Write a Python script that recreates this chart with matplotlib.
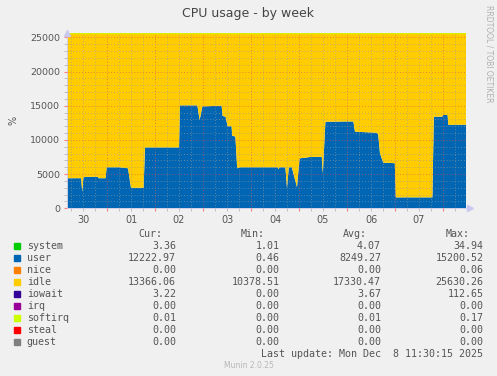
import matplotlib
matplotlib.use('Agg')
import matplotlib.pyplot as plt
from matplotlib.ticker import MultipleLocator, FuncFormatter

# hours since Nov 30 00:00
hours = [4.0, 11.1, 11.6, 12.2, 13.0, 19.4, 19.8, 23.3, 23.8, 30.0, 34.5, 36.0,
         42.3, 43.0, 60.0, 60.5, 69.2, 70.3, 71.7, 81.3, 81.8, 83.3, 84.3, 86.3,
         86.6, 88.2, 89.1, 90.7, 109.2, 109.8, 110.2, 113.2, 114.0, 114.9, 116.4,
         119.0, 119.8, 120.3, 125.6, 131.4, 131.9, 133.2, 147.2, 148.0, 158.8,
         159.6, 160.5, 162.1, 167.9, 168.4, 186.7, 187.4, 191.7, 192.1, 194.3,
         194.7, 203.5]
user = [4400, 4400, 2400, 4500, 4600, 4600, 4400, 4400, 6000, 6000, 5850, 3000,
        3000, 8900, 8900, 15050, 15050, 12900, 14900, 15000, 13500, 13400, 12000,
        12000, 10600, 10500, 5850, 6000, 6000, 5700, 6000, 6000, 3000, 6000, 6000,
        3100, 5800, 7300, 7500, 7540, 5100, 12660, 12700, 11200, 11050, 10800,
        8040, 6670, 6600, 1600, 1600, 13400, 13400, 13640, 13640, 12200, 12220]
idle = [21230, 21230, 23230, 21130, 21030, 21030, 21230, 21230, 19630, 19630,
        19780, 22630, 22630, 16730, 16730, 10580, 10580, 12730, 10730, 10630,
        12130, 12230, 13630, 13630, 15030, 15130, 19780, 19630, 19630, 19930,
        19630, 19630, 22630, 19630, 19630, 22530, 19830, 18330, 18130, 18090,
        20530, 12970, 12930, 14430, 14580, 14830, 17590, 18960, 19030, 24030,
        24030, 12230, 12230, 11990, 11990, 13430, 13410]

day_labels = ['30', '01', '02', '03', '04', '05', '06', '07', '08']

legend_names = ['system', 'user', 'nice', 'idle', 'iowait', 'irq', 'softirq', 'steal', 'guest']
legend_colors = ['#00cc00', '#0066b3', '#ff8000', '#ffcc00', '#330099', '#990099',
                 '#ccff00', '#ff0000', '#808080']
cur_vals = ['3.36', '12222.97', '0.00', '13366.06', '3.22', '0.00', '0.01', '0.00', '0.00']
min_vals = ['1.01', '0.46', '0.00', '10378.51', '0.00', '0.00', '0.00', '0.00', '0.00']
avg_vals = ['4.07', '8249.27', '0.00', '17330.47', '3.67', '0.00', '0.01', '0.00', '0.00']
max_vals = ['34.94', '15200.52', '0.06', '25630.26', '112.65', '0.00', '0.17', '0.00', '0.00']

W, H = 497, 376
fig = plt.figure(figsize=(W / 100, H / 100), dpi=100, facecolor='#f0f0f0')
ax = fig.add_axes([67 / W, (H - 208.3) / H, 399 / W, 175.3 / H])
ax.set_facecolor('white')

ax.stackplot(hours, user, idle, colors=['#0066b3', '#ffcc00'], linewidth=0, zorder=1)
# thin softirq/iowait band on top of the stack
ax.axhline(25630, color='#d8f000', linewidth=0.9, zorder=4)
ax.set_xlim(4.0, 203.5)
ax.set_ylim(0, 25630)

# grid
ax.xaxis.set_major_locator(MultipleLocator(24))
ax.xaxis.set_minor_locator(MultipleLocator(6))
ax.yaxis.set_major_locator(MultipleLocator(5000))
ax.yaxis.set_minor_locator(MultipleLocator(1000))
ax.grid(which='minor', color='#9a9a9a', linestyle=(0, (1, 2.5)), linewidth=0.6,
        alpha=0.8, zorder=2)
ax.grid(which='major', color='#e85050', linestyle=(0, (1, 2.5)), linewidth=0.6,
        alpha=0.8, zorder=3)
ax.set_axisbelow(False)


def day_fmt(v, pos):
    h = int(round(v))
    if h % 24 == 12:
        return day_labels[h // 24]
    return ''


ax.xaxis.set_major_formatter(FuncFormatter(lambda v, p: ''))
ax.xaxis.set_minor_formatter(FuncFormatter(day_fmt))
ax.tick_params(axis='x', which='both', labelsize=7, labelcolor='#555555', pad=3)
ax.tick_params(axis='x', which='major', length=2, color='#ff8080')
ax.tick_params(axis='x', which='minor', length=2, color='#b8b8b8')
ax.tick_params(axis='y', which='major', labelsize=6.8, labelcolor='#555555', length=2,
               color='#ff8080', pad=3)
ax.tick_params(axis='y', which='minor', length=2, color='#b8b8b8')
ax.yaxis.set_major_formatter(FuncFormatter(lambda v, p: '%d' % v))

for s in ['top', 'right']:
    ax.spines[s].set_visible(False)
for s in ['left', 'bottom']:
    ax.spines[s].set_color('#d0d0e8')
    ax.spines[s].set_linewidth(0.7)

# axis arrows
ax.plot([4.0], [25630], marker='^', color='#c8c8f0', markersize=4, clip_on=False, zorder=5)
ax.plot([205.5], [0], marker='>', color='#c8c8f0', markersize=4, clip_on=False, zorder=5)

ax.set_ylabel('%', fontsize=7, color='#555555', labelpad=8)

fig.text(248 / W, 1 - 13 / H, 'CPU usage - by week', ha='center', va='center',
         fontsize=9, color='#444444')
fig.text(489 / W, 1 - 5 / H, 'RRDTOOL / TOBI OETIKER', rotation=270, ha='center', va='top',
         fontsize=5.5, color='#b0b0b0')

# legend table
mono = 'DejaVu Sans Mono'
fs = 7.2
tc = '#555555'
cols_x = [176, 279.3, 381, 483.3]
head_x = [162.3, 265, 367, 469.3]
for hx, lbl in zip(head_x, ['Cur:', 'Min:', 'Avg:', 'Max:']):
    fig.text(hx / W, 1 - 234 / H, lbl, ha='right', va='center', family=mono, fontsize=fs, color=tc)

for i, name in enumerate(legend_names):
    y = 245.7 + i * 12
    fig.patches.append(plt.Rectangle((14 / W, 1 - (y + 3) / H), 6 / W, 6 / H,
                                     transform=fig.transFigure, color=legend_colors[i]))
    fig.text(26.7 / W, 1 - y / H, name, ha='left', va='center', family=mono, fontsize=fs, color=tc)
    for cx, vals in zip(cols_x, [cur_vals, min_vals, avg_vals, max_vals]):
        fig.text(cx / W, 1 - y / H, vals[i], ha='right', va='center', family=mono,
                 fontsize=fs, color=tc)

fig.text(483.3 / W, 1 - 353.7 / H, 'Last update: Mon Dec  8 11:30:15 2025', ha='right',
         va='center', family=mono, fontsize=fs, color=tc)
fig.text(249 / W, 1 - 365 / H, 'Munin 2.0.25', ha='center', va='center', fontsize=5.5,
         color='#b8b8b8')

fig.savefig('out.png', dpi=100, facecolor=fig.get_facecolor())
